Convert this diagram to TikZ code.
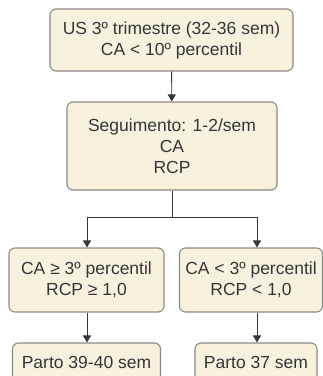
\documentclass[tikz,border=0pt]{standalone}
\usepackage{fontspec}
\setmainfont{Liberation Sans}
\usetikzlibrary{arrows.meta}
\definecolor{boxfill}{HTML}{F8F1DE}
\definecolor{boxline}{HTML}{8C8A84}
\definecolor{inktext}{HTML}{363636}

\begin{document}
\begin{tikzpicture}[x=1pt,y=-1pt,
    caixa/.style={draw=boxline, line width=1.1pt, fill=boxfill, rounded corners=6pt,
        text=inktext, align=center, font=\fontsize{17.5}{21}\selectfont, inner sep=0pt},
    seta/.style={draw=inktext, line width=0.9pt, -{Triangle[length=7pt,width=8pt]}},
    linha/.style={draw=inktext, line width=0.9pt}]

    \useasboundingbox (0,0) rectangle (323,376);

    % US
    \node [caixa, minimum width=243pt, minimum height=62pt] (us) at (171.5,40)
        {US 3º trimestre (32-36 sem)\\CA < 10º percentil};
    % seguimento
    \node [caixa, minimum width=210pt, minimum height=88pt] (seg) at (172,146)
        {Seguimento: 1-2/sem\\CA\\RCP};
    % CA/RCP
    \node [caixa, minimum width=155pt, minimum height=64pt] (normal) at (86.5,280)
        {CA ≥ 3º percentil\\RCP ≥ 1,0};
    \node [caixa, minimum width=143pt, minimum height=64pt] (alterado) at (251,280)
        {CA < 3º percentil\\RCP < 1,0};
    % parto
    \node [caixa, minimum width=148pt, minimum height=38pt] (parto1) at (86.5,362)
        {Parto 39-40 sem};
    \node [caixa, minimum width=122pt, minimum height=38pt] (parto2) at (256,362)
        {Parto 37 sem};

    % |
    \draw [seta] (us) -- (seg);
    % fork
    \coordinate (ramo) at (172,217);
    \coordinate (ramoE) at (87,217);
    \coordinate (ramoD) at (257,217);
    \draw [linha] (seg) -- (ramo);
    \draw [linha] (ramoE) -- (ramoD);
    \draw [seta] (ramoE) -- (ramoE |- normal.north);
    \draw [seta] (ramoD) -- (ramoD |- alterado.north);
    % |
    \draw [seta] (normal.south -| ramoE) -- (ramoE |- parto1.north);
    \draw [seta] (alterado.south -| ramoD) -- (ramoD |- parto2.north);
\end{tikzpicture}
\end{document}
